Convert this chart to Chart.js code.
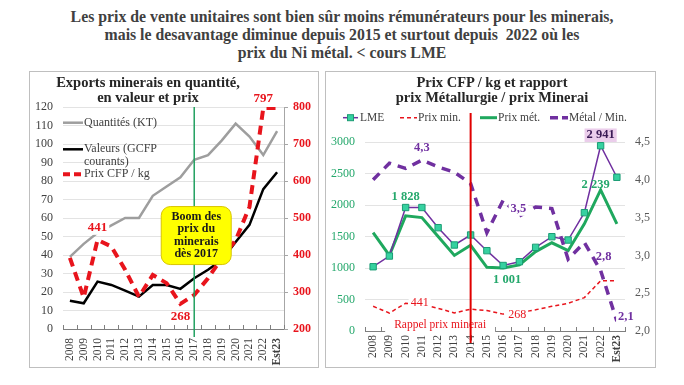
<!DOCTYPE html>
<html><head><meta charset="utf-8">
<script src="https://cdn.jsdelivr.net/npm/chart.js@4/dist/chart.umd.min.js"></script>
<style>
body{margin:0;width:684px;height:385px;background:#fff;position:relative;overflow:hidden;font-family:'Liberation Serif','Times New Roman',serif;}
.tl{position:absolute;left:0;width:684px;text-align:center;font-weight:bold;font-size:15.8px;line-height:18px;color:#404040;white-space:pre;}
.panel{position:absolute;border:1px solid #BFBFBF;box-sizing:border-box;background:#fff;}
.pt{position:absolute;text-align:center;font-weight:bold;font-size:14.5px;line-height:15px;color:#262626;white-space:pre;}
canvas{position:absolute;}
</style></head>
<body>
<div class="tl" style="top:8px">Les prix de vente unitaires sont bien sûr moins rémunérateurs pour les minerais,</div>
<div class="tl" style="top:26px">mais le desavantage diminue depuis 2015 et surtout depuis  2022 où les</div>
<div class="tl" style="top:44px">prix du Ni métal. &lt; cours LME</div>
<div class="panel" style="left:29px;top:71px;width:290px;height:297px"></div>
<div class="panel" style="left:325px;top:71px;width:331px;height:297px"></div>
<canvas id="c1" width="289" height="296" style="left:29px;top:71px"></canvas>
<canvas id="c2" width="330" height="296" style="left:325px;top:71px"></canvas>
<div class="pt" style="left:38px;width:220px;top:75px">Exports minerais en quantité,
en valeur et prix</div>
<div class="pt" style="left:382px;width:220px;top:75px">Prix CFP / kg et rapport
prix Métallurgie / prix Minerai</div>
<script>
const F = "'Liberation Serif','Times New Roman',serif";
// ---- data ----
const years = ['2008','2009','2010','2011','2012','2013','2014','2015','2016','2017','2018','2019','2020','2021','2022','Est23'];
const quantites = [39, 46, 52, 56, 60, 60, 72, 77, 82, 91.5, 94, 102, 111, 104, 94, 107];
const valeurs   = [15.3, 13.9, 25.6, 23.8, 20.7, 17.5, 23.8, 23.8, 21.7, 27.4, 32, 37.4, 47, 56.3, 75.6, 84.7];
const prixCFP   = [392, 285, 441, 423, 360, 287, 346, 324, 268, 292, 337, 392, 440, 530, 797, 797];
const lme       = [1020, 1190, 1960, 1960, 1640, 1365, 1524, 1275, 1040, 1100, 1328, 1497, 1444, 1878, 2941, 2440];
const prixMet   = [1560, 1200, 1828, 1800, 1500, 1200, 1360, 1010, 1001, 1050, 1260, 1400, 1275, 1700, 2239, 1700];
const ratioMetMin = [4.0, 4.22, 4.15, 4.26, 4.17, 4.1, 3.95, 3.3, 3.73, 3.52, 3.64, 3.62, 2.95, 3.17, 2.8, 2.13];
const qtyTicks   = [0,10,20,30,40,50,60,70,80,90,100,110,120];
const prixTicks  = [200,300,400,500,600,700,800];
const cfpTicks   = [0,500,1000,1500,2000,2500,3000];
const ratioTicks = [2.0,2.5,3.0,3.5,4.0,4.5];

const RED = '#E8141C', GREEN = '#1FA85E', GREENTXT = '#25A86C', PURPLE = '#7030A0';
const fmtK = v => String(v).replace(/\B(?=(\d{3})+(?!\d))/g, ' ');
const fmtC = v => v.toFixed(1).replace('.', ',');
const xFont = c => ({family: F, size: 11.5, weight: (c.tick && c.tick.label === 'Est23') ? 'bold' : 'normal'});

function txt(ctx, s, x, y, o) {
  ctx.save();
  const size = o.size || 13;
  ctx.font = (o.weight || 'bold') + ' ' + size + 'px ' + F;
  ctx.textAlign = o.align || 'center'; ctx.textBaseline = 'middle';
  if (o.bg) {
    const w = ctx.measureText(s).width + 4, h = size + 1;
    const lx = (o.align === 'left') ? x - 2 : x - w / 2;
    ctx.fillStyle = o.bg; ctx.fillRect(lx, y - h / 2, w, h);
  }
  ctx.fillStyle = o.color || '#404040';
  ctx.fillText(s, x, y);
  ctx.restore();
}
function seg(ctx, x1, y1, x2, y2, color, w, dash) {
  ctx.save(); ctx.strokeStyle = color; ctx.lineWidth = w; ctx.setLineDash(dash || []);
  ctx.beginPath(); ctx.moveTo(x1, y1); ctx.lineTo(x2, y2); ctx.stroke(); ctx.restore();
}
function xTicks(chart) {
  const {ctx, chartArea: a} = chart; const n = years.length; const w = (a.right - a.left) / n;
  for (let k = 0; k <= n; k++) { const xx = Math.round(a.left + k * w) + 0.5; seg(ctx, xx, a.bottom - 4, xx, a.bottom, '#7F7F7F', 1); }
}

// ---- left chart ----
const leftPlugin = {
  id: 'leftDeco',
  afterDatasetsDraw(chart) {
    const {ctx, chartArea: a, scales: {x, y, y1}} = chart;
    xTicks(chart);
    const gx = x.getPixelForValue(years.indexOf('2017'));
    seg(ctx, gx, a.top, gx, a.bottom + 8, '#22A060', 1.5);
    const cx = gx + 2, cy = y.getPixelForValue(50.5), bw = 70, bh = 58;
    ctx.save();
    ctx.beginPath(); ctx.roundRect(cx - bw / 2, cy - bh / 2, bw, bh, 9);
    ctx.fillStyle = '#FFFF00'; ctx.fill(); ctx.strokeStyle = '#D8C400'; ctx.lineWidth = 1; ctx.stroke();
    ctx.restore();
    ['Boom des', 'prix du', 'minerais', 'dès 2017'].forEach((s, i) => txt(ctx, s, cx, cy - 19 + i * 12.5, {size: 12, color: '#1A1A1A'}));
    const i441 = 2, i268 = 8, i797 = 14;
    txt(ctx, String(prixCFP[i441]), x.getPixelForValue(i441), y1.getPixelForValue(prixCFP[i441]) - 12, {color: RED, bg: '#fff'});
    txt(ctx, String(prixCFP[i268]), x.getPixelForValue(i268), y1.getPixelForValue(prixCFP[i268]) + 13, {color: RED});
    txt(ctx, String(prixCFP[i797]), x.getPixelForValue(i797), y1.getPixelForValue(prixCFP[i797]) - 9, {color: RED});
  },
  afterDraw(chart) {
    const ctx = chart.ctx;
    const lx1 = 34, lx2 = 54, tx = 55;
    seg(ctx, lx1, 51.7, lx2, 51.7, '#9E9E9E', 2.5);
    txt(ctx, 'Quantités (KT)', tx, 51.7, {align: 'left', weight: 'normal', size: 12});
    seg(ctx, lx1, 78.3, lx2, 78.3, '#000', 2.5);
    txt(ctx, 'Valeurs (GCFP', tx, 78.3, {align: 'left', weight: 'normal', size: 12});
    txt(ctx, 'courants)', tx, 90.7, {align: 'left', weight: 'normal', size: 12});
    seg(ctx, lx1, 103.3, lx2, 103.3, RED, 4, [7, 4]);
    txt(ctx, 'Prix CFP / kg', tx, 103.3, {align: 'left', weight: 'normal', size: 12});
  }
};

new Chart(document.getElementById('c1'), {
  type: 'line',
  data: {labels: years, datasets: [
    {label: 'Prix CFP / kg', data: prixCFP, yAxisID: 'y1', borderColor: RED, borderWidth: 4, borderDash: [9, 6], pointRadius: 0, order: 0},
    {label: 'Valeurs (GCFP courants)', data: valeurs, yAxisID: 'y', borderColor: '#000', borderWidth: 2.5, pointRadius: 0, order: 1},
    {label: 'Quantités (KT)', data: quantites, yAxisID: 'y', borderColor: '#9E9E9E', borderWidth: 2.5, pointRadius: 0, order: 2}
  ]},
  options: {
    responsive: false, animation: false, devicePixelRatio: 1,
    layout: {padding: {top: 36, left: 0, right: 0, bottom: 0}},
    plugins: {legend: {display: false}, tooltip: {enabled: false}},
    scales: {
      x: {offset: true, grid: {display: false, drawTicks: false}, border: {display: true, color: '#7F7F7F'},
          ticks: {autoSkip: false, minRotation: 90, maxRotation: 90, padding: 9, color: '#404040', font: xFont},
          afterFit: s => { s.height = 38; }},
      y: {position: 'left', min: qtyTicks[0], max: qtyTicks[qtyTicks.length - 1],
          ticks: {stepSize: qtyTicks[1] - qtyTicks[0], padding: 10, color: '#404040', font: {family: F, size: 12}, callback: v => String(v)},
          grid: {color: '#E3E3E3', drawTicks: false}, border: {display: false},
          afterFit: s => { s.width = 34; }},
      y1: {position: 'right', min: prixTicks[0], max: prixTicks[prixTicks.length - 1],
          ticks: {stepSize: prixTicks[1] - prixTicks[0], padding: 5, color: RED, font: {family: F, size: 12, weight: 'bold'}, callback: v => String(v)},
          grid: {drawOnChartArea: false, tickLength: 4, color: '#A6A6A6'}, border: {display: true, color: '#A6A6A6'},
          afterFit: s => { s.width = 34; }}
    }
  },
  plugins: [leftPlugin]
});

// ---- right chart ----
const rightPlugin = {
  id: 'rightDeco',
  afterDatasetsDraw(chart) {
    const {ctx, chartArea: a, scales: {x, y, y1}} = chart;
    xTicks(chart);
    const rx = x.getPixelForValue(4) + 2;
    ctx.save(); ctx.fillStyle = '#fff'; ctx.fillRect(rx - 55, a.bottom - 14, 110, 15.5); ctx.restore();
    txt(ctx, 'Rappel prix minerai', rx, a.bottom - 6, {color: RED, weight: 'normal', size: 11.5});
    const vx = x.getPixelForValue(years.indexOf('2014'));
    seg(ctx, vx, a.top - 29, vx, a.bottom + 12, '#E00000', 2);
    const i10 = 2, i16 = 8, i17 = 9, i11 = 3, i22 = 14, i23 = 15;
    txt(ctx, fmtK(prixMet[i10]), x.getPixelForValue(i10), y.getPixelForValue(lme[i10]) - 11, {color: GREENTXT, size: 12.5});
    txt(ctx, fmtK(lme[i22]), x.getPixelForValue(i22), y.getPixelForValue(lme[i22]) - 10.5, {color: '#3A1A55', size: 12.5, bg: '#EBCDEB'});
    txt(ctx, fmtK(prixMet[i22]), x.getPixelForValue(i22) - 5, y.getPixelForValue(prixMet[i22]) - 5, {color: GREENTXT, size: 12.5});
    txt(ctx, fmtK(prixMet[i16]), x.getPixelForValue(i16) + 4, y.getPixelForValue(prixMet[i16]) + 12, {color: GREENTXT, size: 12.5});
    txt(ctx, fmtC(ratioMetMin[i11]), x.getPixelForValue(i11), y1.getPixelForValue(ratioMetMin[i11]) - 12, {color: PURPLE, size: 12.5});
    txt(ctx, fmtC(ratioMetMin[i17]), x.getPixelForValue(i17) - 1, y1.getPixelForValue(ratioMetMin[i17]) - 7, {color: PURPLE, size: 12.5, bg: '#fff'});
    txt(ctx, fmtC(ratioMetMin[i22]), x.getPixelForValue(i22) + 3, y1.getPixelForValue(ratioMetMin[i22]) - 14, {color: PURPLE, size: 12.5});
    txt(ctx, fmtC(ratioMetMin[i23]), x.getPixelForValue(i23) + 9, y1.getPixelForValue(ratioMetMin[i23]) - 4, {color: PURPLE, size: 12.5, bg: '#fff'});
    txt(ctx, String(prixCFP[i10]), x.getPixelForValue(i10) + 14, y.getPixelForValue(prixCFP[i10]), {color: RED, weight: 'normal', size: 12, bg: '#fff'});
    txt(ctx, String(prixCFP[i16]), x.getPixelForValue(i16) + 14, y.getPixelForValue(prixCFP[i16]) + 1, {color: RED, weight: 'normal', size: 12, bg: '#fff'});
  },
  afterDraw(chart) {
    const ctx = chart.ctx; const ly = 46.7;
    const o = {align: 'left', weight: 'normal', size: 11.5};
    seg(ctx, 18, ly, 33, ly, PURPLE, 1.5);
    ctx.save(); ctx.fillStyle = '#36D1A0'; ctx.strokeStyle = '#1B9C74'; ctx.lineWidth = 1;
    ctx.fillRect(22.5, ly - 3, 6, 6); ctx.strokeRect(22.5, ly - 3, 6, 6); ctx.restore();
    txt(ctx, 'LME', 35, ly, o);
    seg(ctx, 75, ly, 92, ly, RED, 1.5, [4, 3]);
    txt(ctx, 'Prix min.', 93, ly, o);
    seg(ctx, 155, ly, 172, ly, GREEN, 3);
    txt(ctx, 'Prix mét.', 173, ly, o);
    seg(ctx, 225, ly, 243, ly, PURPLE, 3.5, [8, 4]);
    txt(ctx, 'Métal / Min.', 244, ly, o);
  }
};

new Chart(document.getElementById('c2'), {
  type: 'line',
  data: {labels: years, datasets: [
    {label: 'Métal / Min.', data: ratioMetMin, yAxisID: 'y1', borderColor: PURPLE, borderWidth: 3.5, borderDash: [9, 7], pointRadius: 0, order: 0},
    {label: 'LME', data: lme, yAxisID: 'y', borderColor: PURPLE, borderWidth: 1.5, pointStyle: 'rect', pointRadius: 4.5,
     pointBackgroundColor: '#36D1A0', pointBorderColor: '#1B9C74', pointBorderWidth: 1, order: 1},
    {label: 'Prix mét.', data: prixMet, yAxisID: 'y', borderColor: GREEN, borderWidth: 3, pointRadius: 0, order: 2},
    {label: 'Prix min.', data: prixCFP, yAxisID: 'y', borderColor: RED, borderWidth: 1.5, borderDash: [4, 3], pointRadius: 0, order: 3}
  ]},
  options: {
    responsive: false, animation: false, devicePixelRatio: 1,
    layout: {padding: {top: 71, left: 0, right: 0, bottom: 0}},
    plugins: {legend: {display: false}, tooltip: {enabled: false}},
    scales: {
      x: {offset: true, grid: {display: false, drawTicks: false}, border: {display: true, color: '#7F7F7F'},
          ticks: {autoSkip: false, minRotation: 90, maxRotation: 90, padding: 4, color: '#404040', font: xFont},
          afterFit: s => { s.height = 36; }},
      y: {position: 'left', min: cfpTicks[0], max: cfpTicks[cfpTicks.length - 1],
          ticks: {stepSize: cfpTicks[1] - cfpTicks[0], padding: 10, color: GREENTXT, font: {family: F, size: 12}, callback: v => String(v)},
          grid: {color: '#E3E3E3', drawTicks: false}, border: {display: false},
          afterFit: s => { s.width = 40; }},
      y1: {position: 'right', min: ratioTicks[0], max: ratioTicks[ratioTicks.length - 1],
          ticks: {stepSize: ratioTicks[1] - ratioTicks[0], padding: 10, color: '#595959', font: {family: F, size: 12}, callback: v => fmtC(v)},
          grid: {drawOnChartArea: false, drawTicks: false}, border: {display: false},
          afterFit: s => { s.width = 30; }}
    }
  },
  plugins: [rightPlugin]
});
</script>
</body></html>
